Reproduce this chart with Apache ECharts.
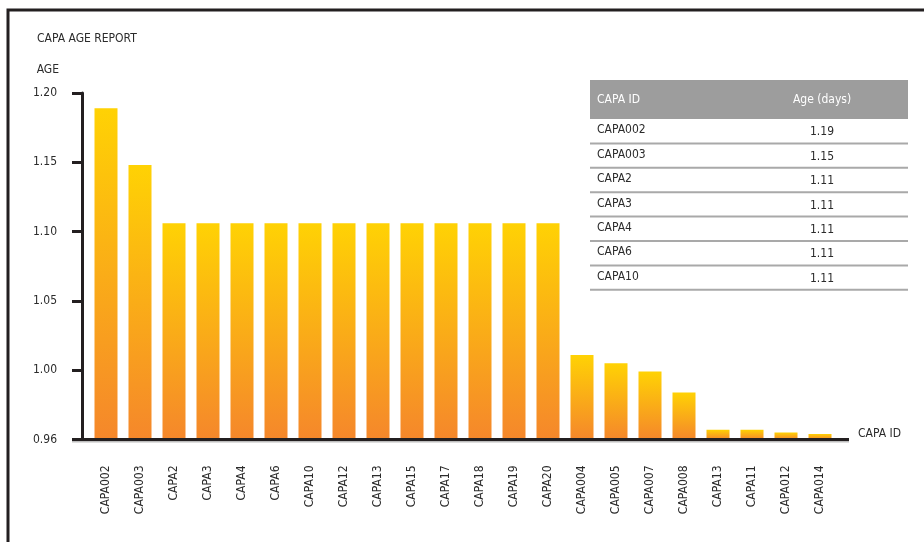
<!DOCTYPE html>
<html>
<head>
<meta charset="utf-8">
<style>
  html, body { margin: 0; padding: 0; background: #fff; }
  #chart { width: 924px; height: 542px; }
</style>
<script src="https://cdn.jsdelivr.net/npm/echarts@6/dist/echarts.min.js"></script>
</head>
<body>
<div id="chart"></div>
<script>
// ---- data ----
var categories = ['CAPA002','CAPA003','CAPA2','CAPA3','CAPA4','CAPA6','CAPA10','CAPA12','CAPA13','CAPA15','CAPA17','CAPA18','CAPA19','CAPA20','CAPA004','CAPA005','CAPA007','CAPA008','CAPA13','CAPA11','CAPA012','CAPA014'];
var ageValues = [1.189, 1.148, 1.106, 1.106, 1.106, 1.106, 1.106, 1.106, 1.106, 1.106, 1.106, 1.106, 1.106, 1.106, 1.011, 1.005, 0.999, 0.984, 0.957, 0.957, 0.955, 0.954];
var yTickLabels = ['0.96', '1.00', '1.05', '1.10', '1.15', '1.20'];
var tableHeader = ['CAPA ID', 'Age (days)'];
var tableRowCount = 7;

var FONT = "'Liberation Sans Narrow', 'DejaVu Sans Condensed', 'Noto Sans', sans-serif";
var FS = 12;
var TEXT = '#2b2b2b';
var AXIS = '#231f20';

var chart = echarts.init(document.getElementById('chart'));

// table built from the data arrays
function buildTable() {
  var x0 = 590, x1 = 908, top = 80, headH = 39, rowH = 24.4, valX = 822, idX = 597;
  var els = [];
  els.push({ type: 'rect', shape: { x: x0, y: top, width: x1 - x0, height: headH }, style: { fill: '#9d9d9d' } });
  els.push({ type: 'text', x: idX, y: top + headH / 2, style: { text: tableHeader[0], fill: '#ffffff', font: FS + 'px ' + FONT, textVerticalAlign: 'middle', textAlign: 'left' } });
  els.push({ type: 'text', x: valX, y: top + headH / 2, style: { text: tableHeader[1], fill: '#ffffff', font: FS + 'px ' + FONT, textVerticalAlign: 'middle', textAlign: 'center' } });
  for (var i = 0; i < tableRowCount; i++) {
    var ry = top + headH + i * rowH;
    els.push({ type: 'text', x: idX, y: ry + rowH / 2 - 1, style: { text: categories[i], fill: TEXT, font: FS + 'px ' + FONT, textVerticalAlign: 'middle', textAlign: 'left' } });
    els.push({ type: 'text', x: valX, y: ry + rowH / 2 + 1, style: { text: ageValues[i].toFixed(2), fill: TEXT, font: FS + 'px ' + FONT, textVerticalAlign: 'middle', textAlign: 'center' } });
    els.push({ type: 'line', shape: { x1: x0, y1: ry + rowH, x2: x1, y2: ry + rowH }, style: { stroke: '#a9a9a9', lineWidth: 2 } });
  }
  return els;
}

var option = {
  animation: false,
  backgroundColor: '#ffffff',
  textStyle: { fontFamily: FONT },
  title: {
    text: 'CAPA AGE REPORT',
    left: 37, top: 33, padding: 0,
    textStyle: { fontFamily: FONT, fontSize: FS, fontWeight: 'normal', color: TEXT }
  },
  grid: { left: 89, right: 87, top: 93, bottom: 102.5, containLabel: false },
  xAxis: {
    type: 'category',
    data: categories,
    name: 'CAPA ID',
    nameLocation: 'end',
    nameGap: 21,
    nameTextStyle: { fontFamily: FONT, fontSize: FS, color: TEXT, verticalAlign: 'bottom', align: 'left' },
    axisLine: { show: false },
    axisTick: { show: false },
    axisLabel: { rotate: 90, interval: 0, margin: 26, fontFamily: FONT, fontSize: FS, color: TEXT },
    splitLine: { show: false }
  },
  yAxis: {
    type: 'value',
    min: 0.95, max: 1.20, interval: 0.05,
    offset: 7,
    name: 'AGE',
    nameLocation: 'end',
    nameGap: 17,
    nameTextStyle: { fontFamily: FONT, fontSize: FS, color: TEXT, align: 'right', padding: [0, 23, 0, 0] },
    axisLine: { show: true, lineStyle: { color: AXIS, width: 3 } },
    axisTick: { show: true, length: 10, lineStyle: { color: AXIS, width: 3 } },
    axisLabel: {
      margin: 25, fontFamily: FONT, fontSize: FS, color: TEXT,
      formatter: function (v) {
        var idx = Math.round((v - 0.95) / 0.05);
        return yTickLabels[idx] !== undefined ? yTickLabels[idx] : '';
      }
    },
    splitLine: { show: false }
  },
  series: [{
    type: 'bar',
    data: ageValues,
    barWidth: 23,
    itemStyle: {
      color: new echarts.graphic.LinearGradient(0, 0, 0, 1, [
        { offset: 0, color: '#ffd204' },
        { offset: 1, color: '#f5872b' }
      ])
    }
  }],
  graphic: []
};

chart.setOption(option);

// frame, x-axis baseline (positioned from the axes' scale), table
var base = chart.convertToPixel({ gridIndex: 0 }, [0, 0.95]);
var lastCat = chart.convertToPixel({ xAxisIndex: 0 }, categories.length - 1);
var graphics = [
  { type: 'rect', shape: { x: 8, y: 10, width: 1200, height: 1200 }, style: { fill: 'none', stroke: AXIS, lineWidth: 3 }, z: 100 },
  { type: 'line', shape: { x1: 72, y1: base[1] + 2, x2: lastCat + 29, y2: base[1] + 2 }, style: { stroke: '#bdbdbd', lineWidth: 2 }, z: 99 },
  { type: 'line', shape: { x1: 72, y1: base[1], x2: lastCat + 29, y2: base[1] }, style: { stroke: AXIS, lineWidth: 3 }, z: 100 }
].concat(buildTable());
chart.setOption({ graphic: graphics });
</script>
</body>
</html>
